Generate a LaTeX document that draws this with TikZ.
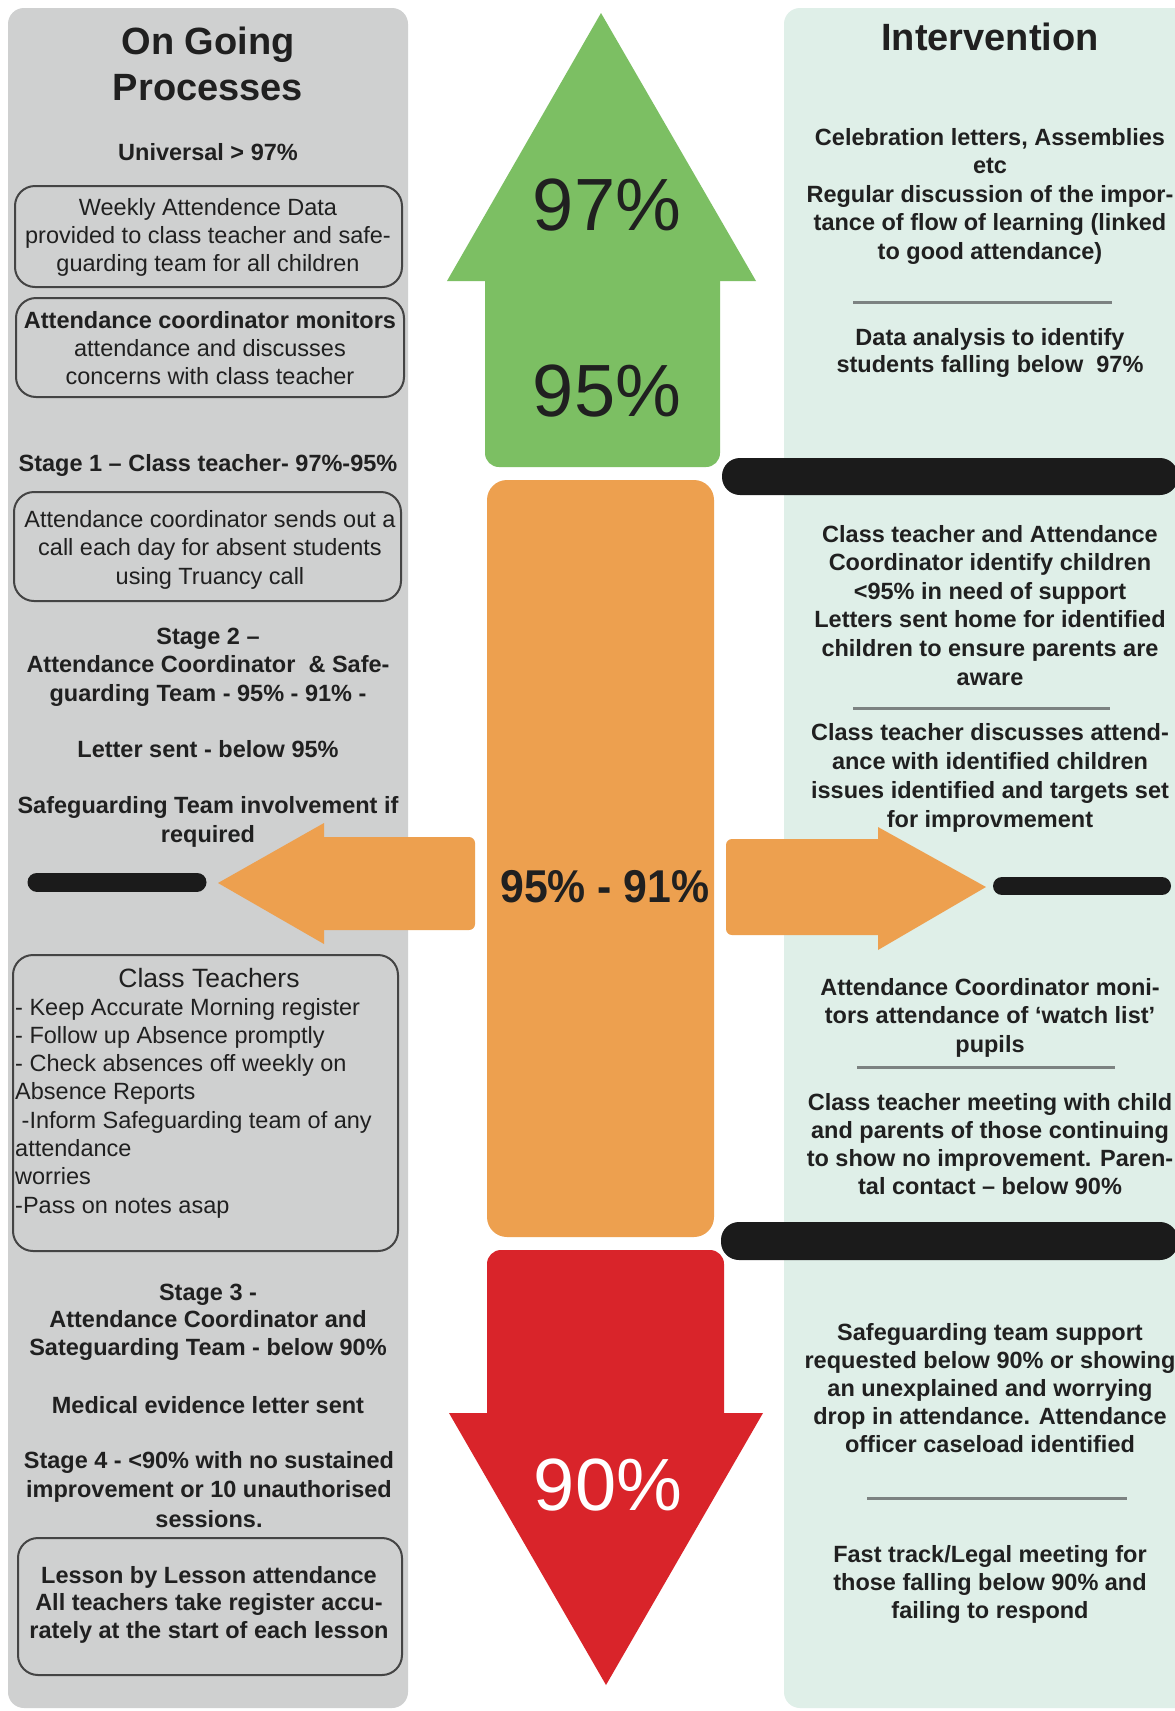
\documentclass[tikz,border=0pt]{standalone}
\usepackage{fontspec}
\setmainfont{Liberation Sans}
\newfontfamily\condfont[FakeStretch=0.93]{Liberation Sans}

\definecolor{panelgray}{RGB}{207,208,208}
\definecolor{panelmint}{RGB}{223,239,232}
\definecolor{arrowgreen}{RGB}{124,191,99}
\definecolor{arroworange}{RGB}{237,160,79}
\definecolor{arrowred}{RGB}{217,36,42}
\definecolor{barblack}{RGB}{27,27,27}
\definecolor{ink}{RGB}{32,32,32}
\definecolor{rulegray}{RGB}{124,130,129}
\definecolor{boxline}{RGB}{68,68,68}

% A column of centred (or left-set) text lines, one node per line:
% #1 name prefix, #2 style, #3 x, #4 first baseline, #5 line pitch, #6 lines
\newcommand\textstack[6]{%
  \foreach \ltext [count=\idx from 0] in {#6}
    \node[#2] (#1-\idx) at (#3,{#4+\idx*#5}) {\ltext};%
}

\begin{document}
\begin{tikzpicture}[x=1pt,y=-1pt,
  boldline/.style={inner sep=0pt, anchor=base, text=ink,
                   font=\fontsize{23.5}{28}\selectfont\bfseries},
  regline/.style={boldline, font=\fontsize{23.5}{28}\selectfont},
  leftline/.style={regline, anchor=base west},
  titleline/.style={boldline, font=\fontsize{38}{46}\selectfont\bfseries},
  bignum/.style={inner sep=0pt, anchor=base, font=\fontsize{74}{80}\selectfont},
  midnum/.style={inner sep=0pt, anchor=base, text=ink,
                 font=\condfont\fontsize{46}{50}\selectfont\bfseries},
  roundbox/.style={draw=boxline, line width=2pt, rounded corners=20pt},
  divider/.style={draw=rulegray, line width=3pt},
  blackbar/.style={fill=barblack, rounded corners=18pt},
  endbar/.style={draw=barblack, line cap=round},
]
\useasboundingbox (0,0) rectangle (1175,1711);
\clip (0,0) rectangle (1175,1711);
\fill[white] (0,0) rectangle (1175,1711);

% side panels
\fill[panelgray, rounded corners=16pt] (8,8) rectangle (408,1708);
\fill[panelmint, rounded corners=16pt] (784,8) rectangle (1210,1708);

% green up arrow
\fill[arrowgreen] (601,13) -- (756,281) -- (447,281) -- cycle;
\fill[arrowgreen, rounded corners=14pt] (485,260) rectangle (720,467);

% orange middle band
\fill[arroworange, rounded corners=20pt] (487,480) rectangle (714,1237);

% red down arrow
\fill[arrowred, rounded corners=14pt] (487,1250) rectangle (724,1430);
\fill[arrowred] (449,1413) -- (763,1413) -- (606,1685) -- cycle;

% orange side arrows
\fill[arroworange] (218,883) -- (324,823) -- (324,944) -- cycle;
\fill[arroworange, rounded corners=6pt] (318,837) rectangle (475,930);
\fill[arroworange] (986,887) -- (878,827) -- (878,950) -- cycle;
\fill[arroworange, rounded corners=6pt] (726,839) rectangle (884,935);

% black threshold bars
\fill[blackbar] (722,458) rectangle (1178,495);
\fill[blackbar] (721,1222) rectangle (1178,1260);
\draw[endbar, line width=19pt] (37,882) -- (197,882);
\draw[endbar, line width=18pt] (1002,886) -- (1162,886);

% outlined boxes in the left column
\draw[roundbox] (15,186) rectangle (402,287);
\draw[roundbox] (16,298) rectangle (404,397);
\draw[roundbox] (14,492) rectangle (401,601);
\draw[roundbox] (13,955) rectangle (398,1251);
\draw[roundbox] (18,1538) rectangle (402,1675);

% dividers in the right column
\draw[divider] (853,302) -- (1112,302);
\draw[divider] (853,708) -- (1110,708);
\draw[divider] (857,1067) -- (1115,1067);
\draw[divider] (867,1498) -- (1127,1498);

% percentages on the arrows
\node[bignum, text=ink] (p97) at (607,230) {97\%};
\node[bignum, text=ink] (p95) at (607,416) {95\%};
\node[bignum, text=white] (p90) at (608,1510) {90\%};
\node[midnum] (p9591) at (605,902) {95\% - 91\%};

% left column
\node[titleline] (lt1) at (208,54) {On Going};
\node[titleline] (lt2) at (208,100) {Processes};
\node[boldline] (uni) at (208,160) {Universal > 97\%};
\textstack{wk}{regline}{208}{215}{28}{{Weekly Attendence Data},{provided to class teacher and safe-},{guarding team for all children}}
\node[boldline] (monhead) at (210,328) {Attendance coordinator monitors};
\textstack{mon}{regline}{210}{356}{28}{{attendance and discusses},{concerns with class teacher}}
\node[boldline] (st1) at (208,471) {Stage 1 – Class teacher- 97\%-95\%};
\textstack{call}{regline}{210}{527}{28.5}{{Attendance coordinator sends out a},{call each day for absent students},{using Truancy call}}
\textstack{st2}{boldline}{208}{644}{28.5}{{Stage 2 –},{Attendance Coordinator \ \& Safe-},{guarding Team - 95\% - 91\% -}}
\node[boldline] (letter) at (208,757) {Letter sent - below 95\%};
\textstack{sg}{boldline}{208}{813}{29}{{Safeguarding Team involvement if},{required}}
\node[regline, font=\fontsize{26.5}{30}\selectfont] (ct) at (209,987) {Class Teachers};
\textstack{ctl}{leftline}{15}{1015}{28.3}{{- Keep Accurate Morning register},{- Follow up Absence promptly},{- Check absences off weekly on},{Absence Reports},{\hspace{6.5pt}-Inform Safeguarding team of any},{attendance},{worries},{-Pass on notes asap}}
\textstack{st3}{boldline}{208}{1300}{27.5}{{Stage 3 -},{Attendance Coordinator and},{Sateguarding Team - below 90\%}}
\node[boldline] (med) at (208,1413) {Medical evidence letter sent};
\textstack{st4}{boldline}{209}{1468}{29.5}{{Stage 4 - <90\% with no sustained},{improvement or 10 unauthorised},{sessions.}}
\textstack{les}{boldline}{209}{1583}{27.5}{{Lesson by Lesson attendance},{All teachers take register accu-},{rately at the start of each lesson}}

% right column
\node[titleline] (rt) at (990,50) {Intervention};
\textstack{cel}{boldline}{990}{145}{28.5}{{Celebration letters, Assemblies},{etc},{Regular discussion of the impor-},{tance of flow of learning (linked},{to good attendance)}}
\textstack{dat}{boldline}{990}{345}{27}{{Data analysis to identify},{students falling below \ 97\%}}
\textstack{idn}{boldline}{990}{542}{28.6}{{Class teacher and Attendance},{Coordinator identify children},{<95\% in need of support},{Letters sent home for identified},{children to ensure parents are},{aware}}
\textstack{dis}{boldline}{990}{740}{29}{{Class teacher discusses attend-},{ance with identified children},{issues identified and targets set},{for improvmement}}
\textstack{wl}{boldline}{990}{995}{28.5}{{Attendance Coordinator moni-},{tors attendance of ‘watch list’},{pupils}}
\textstack{mt}{boldline}{990}{1110}{28.3}{{Class teacher meeting with child},{and parents of those continuing},{to show no improvement. Paren-},{tal contact – below 90\%}}
\textstack{sgs}{boldline}{990}{1340}{28}{{Safeguarding team support},{requested below 90\% or showing},{an unexplained and worrying},{drop in attendance. Attendance},{officer caseload identified}}
\textstack{ft}{boldline}{990}{1562}{28}{{Fast track/Legal meeting for},{those falling below 90\% and},{failing to respond}}
\end{tikzpicture}
\end{document}
